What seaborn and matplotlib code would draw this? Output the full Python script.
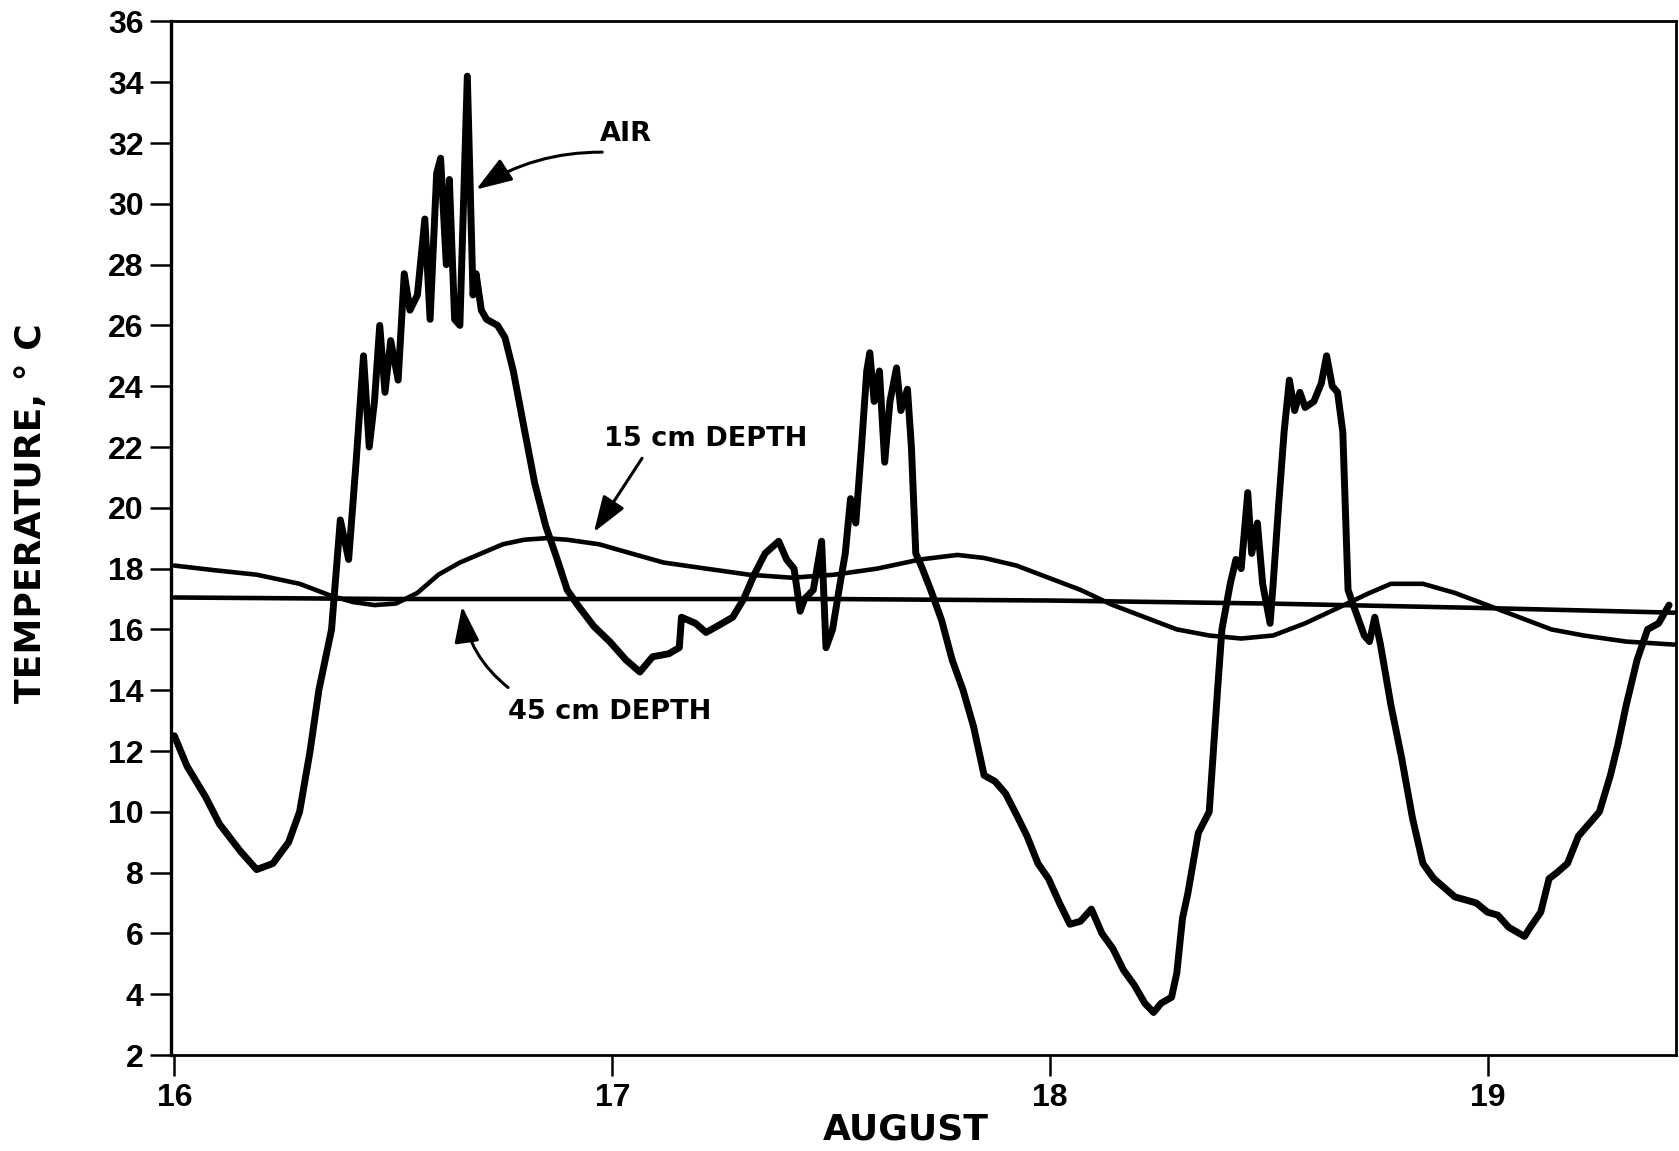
import matplotlib
matplotlib.use("Agg")
import matplotlib.pyplot as plt
from matplotlib import font_manager
import numpy as np
import pandas as pd
import seaborn as sns

# ---------------- data ----------------
air_day = [16.000, 16.029, 16.071, 16.103, 16.151, 16.188, 16.225, 16.261, 16.286, 16.310,
           16.330, 16.359, 16.379, 16.398, 16.415, 16.432, 16.445, 16.457, 16.469, 16.481,
           16.494, 16.511, 16.525, 16.538, 16.555, 16.572, 16.584, 16.599, 16.608, 16.621,
           16.628, 16.640, 16.652, 16.669, 16.682, 16.689, 16.701, 16.713, 16.738, 16.755,
           16.774, 16.799, 16.823, 16.848, 16.872, 16.897, 16.921, 16.958, 16.994, 17.031,
           17.063, 17.092, 17.129, 17.153, 17.158, 17.190, 17.214, 17.239, 17.275, 17.300,
           17.324, 17.349, 17.380, 17.398, 17.415, 17.429, 17.439, 17.459, 17.478, 17.488,
           17.503, 17.520, 17.532, 17.544, 17.556, 17.569, 17.581, 17.588, 17.598, 17.610,
           17.622, 17.634, 17.649, 17.659, 17.674, 17.683, 17.693, 17.708, 17.727, 17.752,
           17.776, 17.801, 17.825, 17.849, 17.874, 17.898, 17.923, 17.947, 17.972, 17.996,
           18.021, 18.045, 18.069, 18.094, 18.118, 18.143, 18.167, 18.192, 18.216, 18.236,
           18.253, 18.277, 18.289, 18.302, 18.314, 18.338, 18.363, 18.382, 18.392, 18.411,
           18.424, 18.436, 18.451, 18.460, 18.473, 18.485, 18.502, 18.509, 18.521, 18.534,
           18.546, 18.558, 18.570, 18.582, 18.602, 18.619, 18.631, 18.644, 18.656, 18.668,
           18.680, 18.692, 18.717, 18.729, 18.741, 18.754, 18.778, 18.802, 18.827, 18.851,
           18.876, 18.900, 18.924, 18.949, 18.973, 18.998, 19.022, 19.047, 19.083, 19.096,
           19.120, 19.139, 19.157, 19.181, 19.206, 19.230, 19.254, 19.279, 19.296, 19.315,
           19.340, 19.364, 19.389, 19.413]
air_temp = [12.5, 11.5, 10.5, 9.6, 8.7, 8.1, 8.3, 9.0, 10.0, 12.0,
            14.0, 16.0, 19.6, 18.3, 21.5, 25.0, 22.0, 23.5, 26.0, 23.8,
            25.5, 24.2, 27.7, 26.5, 27.0, 29.5, 26.2, 31.0, 31.5, 28.0,
            30.8, 26.2, 26.0, 34.2, 27.0, 27.7, 26.5, 26.2, 26.0, 25.6,
            24.5, 22.6, 20.8, 19.4, 18.4, 17.3, 16.8, 16.1, 15.6, 15.0,
            14.6, 15.1, 15.2, 15.4, 16.4, 16.2, 15.9, 16.1, 16.4, 17.0,
            17.8, 18.5, 18.9, 18.3, 18.0, 16.6, 17.0, 17.3, 18.9, 15.4,
            16.0, 17.5, 18.5, 20.3, 19.5, 22.0, 24.5, 25.1, 23.5, 24.5,
            21.5, 23.5, 24.6, 23.2, 23.9, 22.0, 18.5, 18.0, 17.3, 16.3,
            15.0, 14.0, 12.8, 11.2, 11.0, 10.6, 9.9, 9.2, 8.3, 7.8,
            7.0, 6.3, 6.4, 6.8, 6.0, 5.5, 4.8, 4.3, 3.7, 3.4,
            3.7, 3.9, 4.7, 6.5, 7.3, 9.3, 10.0, 14.0, 16.0, 17.5,
            18.3, 18.0, 20.5, 18.5, 19.5, 17.5, 16.2, 17.5, 20.0, 22.5,
            24.2, 23.2, 23.8, 23.3, 23.5, 24.1, 25.0, 24.0, 23.8, 22.5,
            17.3, 16.8, 15.8, 15.6, 16.4, 15.5, 13.5, 11.8, 9.8, 8.3,
            7.8, 7.5, 7.2, 7.1, 7.0, 6.7, 6.6, 6.2, 5.9, 6.2,
            6.7, 7.8, 8.0, 8.3, 9.2, 9.6, 10.0, 11.2, 12.2, 13.5,
            15.0, 16.0, 16.2, 16.8]

d15_day = [16.000, 16.090, 16.188, 16.286, 16.359, 16.408, 16.457, 16.506, 16.555, 16.603,
           16.652, 16.701, 16.750, 16.799, 16.848, 16.897, 16.970, 17.043, 17.117, 17.214,
           17.312, 17.410, 17.507, 17.605, 17.703, 17.788, 17.849, 17.923, 17.996, 18.069,
           18.143, 18.216, 18.289, 18.363, 18.436, 18.509, 18.582, 18.656, 18.729, 18.778,
           18.851, 18.924, 18.998, 19.071, 19.144, 19.218, 19.315, 19.425]
d15_temp = [18.1, 17.95, 17.8, 17.5, 17.1, 16.9, 16.8, 16.85, 17.2, 17.8,
            18.2, 18.5, 18.8, 18.95, 19.0, 18.95, 18.8, 18.5, 18.2, 18.0,
            17.8, 17.7, 17.8, 18.0, 18.3, 18.45, 18.35, 18.1, 17.7, 17.3,
            16.8, 16.4, 16.0, 15.8, 15.7, 15.8, 16.2, 16.7, 17.2, 17.5,
            17.5, 17.2, 16.8, 16.4, 16.0, 15.8, 15.6, 15.5]

d45_day = [16.000, 16.500, 17.000, 17.500, 18.000, 18.500, 19.000, 19.425]
d45_temp = [17.05, 17.0, 17.0, 17.0, 16.95, 16.85, 16.7, 16.55]

x_ticks = [16, 17, 18, 19]
y_ticks = list(range(2, 37, 2))

# ---------------- style ----------------
sns.set_theme(style="ticks")
plt.rcParams['font.family'] = ['DejaVu Sans']

available = {f.name for f in font_manager.fontManager.ttflist}
tick_family = 'Liberation Sans Narrow' if 'Liberation Sans Narrow' in available else 'Liberation Sans'

fig = plt.figure(figsize=(16.79, 11.51), dpi=100)
ax = fig.add_axes([0.102, 0.0834, 0.896, 0.898])

df_air = pd.DataFrame({"day": air_day, "temp": air_temp})
df_15 = pd.DataFrame({"day": d15_day, "temp": d15_temp})
df_45 = pd.DataFrame({"day": d45_day, "temp": d45_temp})

sns.lineplot(data=df_45, x="day", y="temp", ax=ax, color="black", lw=3.3,
             estimator=None, sort=False)
sns.lineplot(data=df_15, x="day", y="temp", ax=ax, color="black", lw=3.3,
             estimator=None, sort=False)
sns.lineplot(data=df_air, x="day", y="temp", ax=ax, color="black", lw=5.0,
             estimator=None, sort=False, solid_joinstyle="round",
             solid_capstyle="round")

ax.set_xlim(15.993, 19.428)
ax.set_ylim(2, 36)
ax.set_xticks(x_ticks)
ax.set_yticks(y_ticks)
ax.set_xticklabels([str(v) for v in x_ticks])
ax.set_yticklabels([str(v) for v in y_ticks])

for name, s in ax.spines.items():
    s.set_linewidth(2.4 if name == "left" else 2.0)
    s.set_color("black")

ax.tick_params(axis="both", direction="out", length=15, width=1.8, color="black")
ax.tick_params(axis="x", pad=5)
ax.tick_params(axis="y", pad=5)
for lbl in ax.get_xticklabels() + ax.get_yticklabels():
    lbl.set_fontfamily([tick_family, 'DejaVu Sans'])
    lbl.set_fontweight("bold")
    lbl.set_fontsize(23)
    lbl.set_color("black")

ax.set_xlabel("AUGUST", fontsize=26, fontweight="bold", color="black")
ax.xaxis.set_label_coords(0.488, -0.056)
ax.set_ylabel("TEMPERATURE, ° C", fontsize=26, fontweight="bold", color="black")
ax.yaxis.set_label_coords(-0.082, 0.524)

# ---------------- annotations ----------------
txt_kw = dict(fontsize=19.5, fontweight="bold", color="black", ha="center", va="center")
ax.text(17.031, 32.3, "AIR", **txt_kw)
ax.text(17.214, 22.26, "15 cm DEPTH", **txt_kw)
ax.text(16.994, 13.28, "45 cm DEPTH", **txt_kw)

arrow_kw = dict(arrowstyle="-|>,head_length=1.3,head_width=0.45", color="black",
                lw=2.2, mutation_scale=17, shrinkA=0, shrinkB=0)
ax.annotate("", xy=(16.689, 30.47), xytext=(16.977, 31.70),
            arrowprops=dict(connectionstyle="arc3,rad=0.15", **arrow_kw))
ax.annotate("", xy=(16.958, 19.20), xytext=(17.068, 21.63),
            arrowprops=dict(connectionstyle="arc3,rad=0.0", **arrow_kw))
ax.annotate("", xy=(16.657, 16.76), xytext=(16.762, 14.09),
            arrowprops=dict(connectionstyle="arc3,rad=-0.2", **arrow_kw))

fig.savefig("out.png", dpi=100, facecolor="white")
